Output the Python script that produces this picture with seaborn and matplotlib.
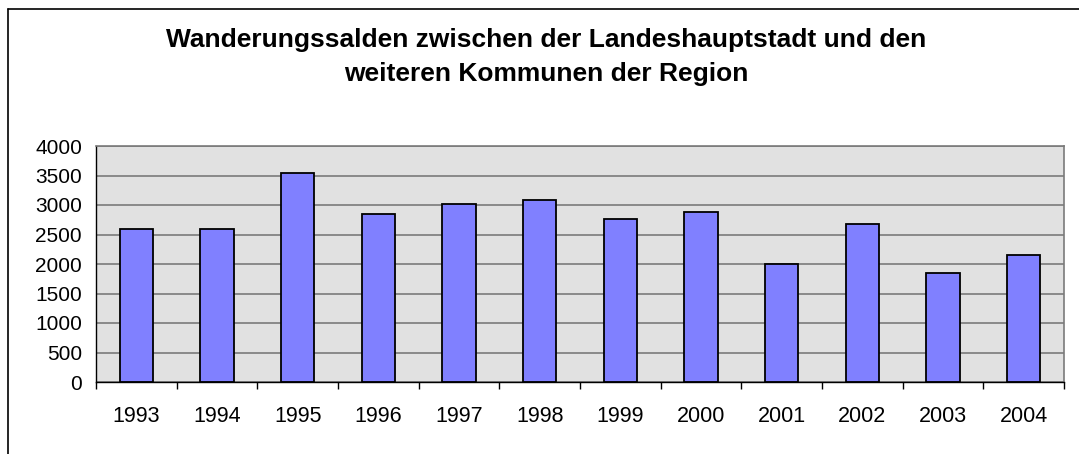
import pandas as pd
import matplotlib
matplotlib.use("Agg")
import matplotlib.pyplot as plt
import seaborn as sns
from matplotlib.lines import Line2D

# Werte
jahre = ["1993", "1994", "1995", "1996", "1997", "1998",
         "1999", "2000", "2001", "2002", "2003", "2004"]
salden = [2600, 2600, 3550, 2840, 3010, 3080,
          2770, 2880, 1995, 2670, 1855, 2160]

titel_1 = "Wanderungssalden zwischen der Landeshauptstadt und den"
titel_2 = "weiteren Kommunen der Region"

df = pd.DataFrame({"Jahr": jahre, "Saldo": salden})

sns.set_style("white")
plt.rcParams["font.family"] = ["Liberation Sans", "DejaVu Sans"]
plt.rcParams["text.color"] = "black"
plt.rcParams["xtick.color"] = "black"
plt.rcParams["ytick.color"] = "black"

fig = plt.figure(figsize=(10.79, 4.54), dpi=100)
ax = fig.add_axes([96 / 1079, (454 - 382) / 454, (1064 - 96) / 1079, (382 - 146) / 454])

ax.set_facecolor("#E1E1E1")
ax.set_axisbelow(True)
ax.yaxis.grid(True, color="#7A7A7A", linewidth=1.2)

sns.barplot(data=df, x="Jahr", y="Saldo", color="#8080FF", edgecolor="black",
            linewidth=1.3, width=0.41, saturation=1, ax=ax)

ax.set_ylim(0, 4000)
ax.set_yticks(range(0, 4001, 500))
ax.set_xlim(-0.5, len(jahre) - 0.5)
ax.set_xlabel("")
ax.set_ylabel("")

# Teilstriche der x-Achse zwischen den Kategorien
ax.set_xticks([i + 0.5 for i in range(-1, len(jahre))], minor=True)
ax.tick_params(axis="x", which="major", length=0, pad=17, labelsize=15.5)
ax.tick_params(axis="x", which="minor", length=5, width=1, color="black", direction="out", bottom=True)
ax.tick_params(axis="y", length=6, width=1, color="black", direction="out", pad=4, labelsize=15)

for s in ["top", "right"]:
    ax.spines[s].set_color("#7A7A7A")
    ax.spines[s].set_linewidth(1.2)
for s in ["left", "bottom"]:
    ax.spines[s].set_color("black")
    ax.spines[s].set_linewidth(1)

fig.text(546 / 1079, 1 - 47 / 454, titel_1, ha="center", va="baseline",
         fontsize=19, fontweight="bold", color="black")
fig.text(546 / 1079, 1 - 81 / 454, titel_2, ha="center", va="baseline",
         fontsize=19, fontweight="bold", color="black")

# Rahmen des Diagrammbereichs (links und oben sichtbar)
fig.add_artist(Line2D([8 / 1079, 8 / 1079], [0, 1 - 9 / 454], transform=fig.transFigure,
                      color="black", linewidth=1.2))
fig.add_artist(Line2D([8 / 1079, 1], [1 - 9 / 454, 1 - 9 / 454], transform=fig.transFigure,
                      color="black", linewidth=1.2))

plt.savefig("out.png", dpi=100)
